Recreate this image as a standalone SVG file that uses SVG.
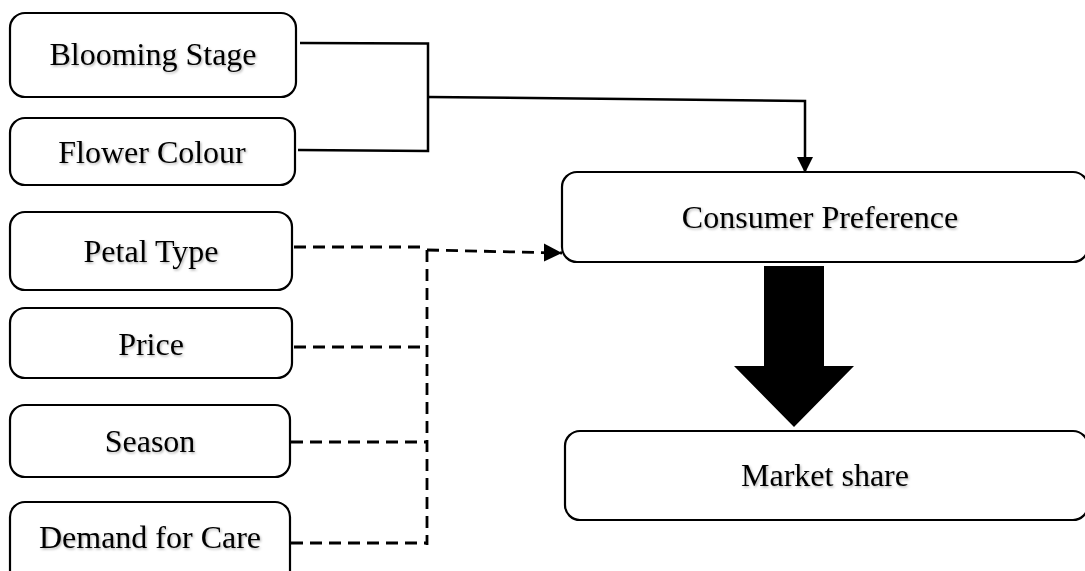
<svg xmlns="http://www.w3.org/2000/svg" width="1085" height="571" viewBox="0 0 1085 571">
  <style>
    .box { fill: #ffffff; stroke: #000000; stroke-width: 2.2; }
    .lbl { font-family: "Liberation Serif", "Times New Roman", serif; font-size: 32px; fill: #000000; text-anchor: middle; filter: url(#shadow); }
    .solid { fill: none; stroke: #000000; stroke-width: 2.5; }
    .dash { fill: none; stroke: #000000; stroke-width: 2.8; stroke-dasharray: 12 7; }
  </style>
  <defs>
    <filter id="shadow" x="-10%" y="-20%" width="120%" height="150%">
      <feDropShadow dx="1.2" dy="1.5" stdDeviation="0.9" flood-color="#000000" flood-opacity="0.3"/>
    </filter>
    <marker id="tri" viewBox="0 0 10 10" refX="10" refY="5" markerWidth="6.5" markerHeight="6.5" markerUnits="strokeWidth" orient="auto">
      <path d="M0,0 L10,5 L0,10 Z" fill="#000000"/>
    </marker>
  </defs>
  <rect width="1085" height="571" fill="#ffffff"/>

  <g id="connectors">
    <polyline class="solid" points="300,43 428,43.5 428,151 298,150"/>
    <polyline class="solid" points="428,97 805,101 805,173" marker-end="url(#tri)"/>
    <line class="dash" x1="294" y1="247" x2="427" y2="247"/>
    <line class="dash" x1="294" y1="347" x2="427" y2="347"/>
    <line class="dash" x1="291" y1="442" x2="427" y2="442"/>
    <line class="dash" x1="291" y1="543" x2="427" y2="543"/>
    <line class="dash" x1="427" y1="250" x2="427" y2="545"/>
    <polyline class="dash" points="427,250 562,253" marker-end="url(#tri)"/>
    <polygon id="block-arrow" points="764,266 824,266 824,366 854,366 794,427 734,366 764,366" fill="#000000"/>
  </g>

  <g id="blooming-stage">
    <rect class="box" x="10" y="13" width="286" height="84" rx="15"/>
    <text class="lbl" x="153" y="65">Blooming Stage</text>
  </g>
  <g id="flower-colour">
    <rect class="box" x="10" y="118" width="285" height="67" rx="15"/>
    <text class="lbl" x="152" y="163">Flower Colour</text>
  </g>
  <g id="petal-type">
    <rect class="box" x="10" y="212" width="282" height="78" rx="15"/>
    <text class="lbl" x="151" y="262">Petal Type</text>
  </g>
  <g id="price">
    <rect class="box" x="10" y="308" width="282" height="70" rx="15"/>
    <text class="lbl" x="151" y="355">Price</text>
  </g>
  <g id="season">
    <rect class="box" x="10" y="405" width="280" height="72" rx="15"/>
    <text class="lbl" x="150" y="452">Season</text>
  </g>
  <g id="demand-for-care">
    <rect class="box" x="10" y="502" width="280" height="90" rx="15"/>
    <text class="lbl" x="150" y="548">Demand for Care</text>
  </g>
  <g id="consumer-preference">
    <rect class="box" x="562" y="172" width="526" height="90" rx="15"/>
    <text class="lbl" x="820" y="228">Consumer Preference</text>
  </g>
  <g id="market-share">
    <rect class="box" x="565" y="431" width="523" height="89" rx="15"/>
    <text class="lbl" x="825" y="486">Market share</text>
  </g>
</svg>
